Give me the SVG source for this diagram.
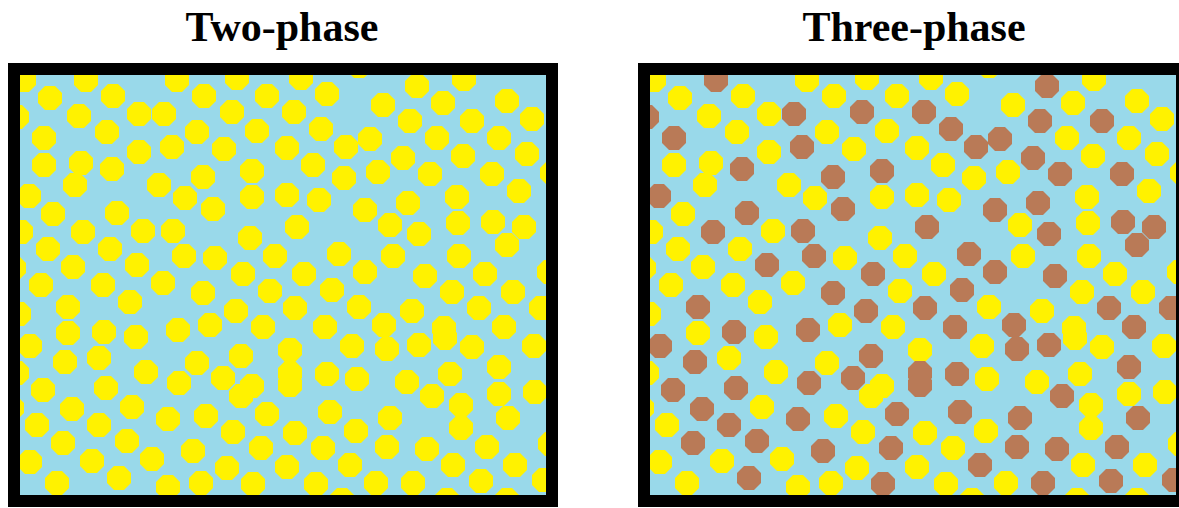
<svg xmlns="http://www.w3.org/2000/svg" xmlns:xlink="http://www.w3.org/1999/xlink" width="1179" height="508" viewBox="0 0 1179 508">
<style>
.t{font-family:"Liberation Serif","Times New Roman",serif;font-weight:bold;font-size:42px;fill:#000;text-anchor:middle}
.bg{fill:#99D9EA}
.fr{fill:none;stroke:#000;stroke-width:12}
.y{fill:#FFF200}
.b{fill:#B97A57}
</style>
<defs>
<path id="o" d="M12 5L5 12L-5 12L-12 5L-12-5L-5-12L5-12L12-5Z"/>
<clipPath id="cL"><rect x="20" y="75" width="526" height="420"/></clipPath>
<clipPath id="cR"><rect x="650" y="75" width="526" height="420"/></clipPath>
</defs>
<rect width="1179" height="508" fill="#fff"/>
<g id="title-two"><text class="t" x="282" y="41">Two-phase</text></g>
<g id="title-three"><text class="t" x="914" y="41">Three-phase</text></g>
<g id="panel-two">
<rect class="bg" x="20" y="75" width="526" height="420"/>
<g clip-path="url(#cL)" class="y">
<use href="#o" x="24" y="80"/><use href="#o" x="86" y="80"/><use href="#o" x="50" y="98"/><use href="#o" x="113" y="96"/><use href="#o" x="177" y="80"/><use href="#o" x="237" y="78"/><use href="#o" x="204" y="96"/><use href="#o" x="267" y="96"/><use href="#o" x="17" y="117"/><use href="#o" x="79" y="116"/>
<use href="#o" x="139" y="114"/><use href="#o" x="164" y="114"/><use href="#o" x="232" y="112"/><use href="#o" x="44" y="138"/><use href="#o" x="107" y="132"/><use href="#o" x="197" y="132"/><use href="#o" x="257" y="131"/><use href="#o" x="139" y="152"/><use href="#o" x="172" y="147"/><use href="#o" x="224" y="149"/>
<use href="#o" x="287" y="148"/><use href="#o" x="44" y="165"/><use href="#o" x="81" y="163"/><use href="#o" x="112" y="169"/><use href="#o" x="75" y="185"/><use href="#o" x="159" y="185"/><use href="#o" x="203" y="177"/><use href="#o" x="252" y="171"/><use href="#o" x="29" y="196"/><use href="#o" x="185" y="198"/>
<use href="#o" x="53" y="214"/><use href="#o" x="117" y="213"/><use href="#o" x="213" y="209"/><use href="#o" x="252" y="197"/><use href="#o" x="287" y="195"/><use href="#o" x="301" y="78"/><use href="#o" x="359" y="66"/><use href="#o" x="327" y="94"/><use href="#o" x="417" y="86"/><use href="#o" x="464" y="79"/>
<use href="#o" x="294" y="112"/><use href="#o" x="383" y="105"/><use href="#o" x="443" y="103"/><use href="#o" x="507" y="101"/><use href="#o" x="321" y="129"/><use href="#o" x="410" y="121"/><use href="#o" x="472" y="121"/><use href="#o" x="532" y="119"/><use href="#o" x="346" y="147"/><use href="#o" x="370" y="139"/>
<use href="#o" x="437" y="138"/><use href="#o" x="499" y="138"/><use href="#o" x="313" y="165"/><use href="#o" x="403" y="158"/><use href="#o" x="463" y="156"/><use href="#o" x="527" y="154"/><use href="#o" x="344" y="178"/><use href="#o" x="378" y="172"/><use href="#o" x="430" y="174"/><use href="#o" x="492" y="174"/>
<use href="#o" x="552" y="173"/><use href="#o" x="319" y="200"/><use href="#o" x="365" y="210"/><use href="#o" x="408" y="203"/><use href="#o" x="457" y="197"/><use href="#o" x="519" y="191"/><use href="#o" x="21" y="232"/><use href="#o" x="83" y="232"/><use href="#o" x="143" y="231"/><use href="#o" x="173" y="231"/>
<use href="#o" x="250" y="238"/><use href="#o" x="48" y="249"/><use href="#o" x="110" y="249"/><use href="#o" x="184" y="256"/><use href="#o" x="215" y="258"/><use href="#o" x="275" y="256"/><use href="#o" x="14" y="268"/><use href="#o" x="73" y="267"/><use href="#o" x="137" y="265"/><use href="#o" x="243" y="274"/>
<use href="#o" x="41" y="285"/><use href="#o" x="103" y="285"/><use href="#o" x="163" y="283"/><use href="#o" x="203" y="293"/><use href="#o" x="270" y="291"/><use href="#o" x="68" y="307"/><use href="#o" x="130" y="302"/><use href="#o" x="236" y="311"/><use href="#o" x="19" y="314"/><use href="#o" x="68" y="333"/>
<use href="#o" x="104" y="332"/><use href="#o" x="136" y="337"/><use href="#o" x="178" y="330"/><use href="#o" x="210" y="325"/><use href="#o" x="263" y="327"/><use href="#o" x="30" y="346"/><use href="#o" x="297" y="227"/><use href="#o" x="390" y="225"/><use href="#o" x="419" y="234"/><use href="#o" x="458" y="223"/>
<use href="#o" x="493" y="222"/><use href="#o" x="524" y="227"/><use href="#o" x="507" y="245"/><use href="#o" x="339" y="254"/><use href="#o" x="393" y="256"/><use href="#o" x="459" y="256"/><use href="#o" x="304" y="274"/><use href="#o" x="365" y="272"/><use href="#o" x="425" y="276"/><use href="#o" x="485" y="274"/>
<use href="#o" x="549" y="272"/><use href="#o" x="332" y="290"/><use href="#o" x="452" y="292"/><use href="#o" x="513" y="292"/><use href="#o" x="295" y="308"/><use href="#o" x="359" y="307"/><use href="#o" x="412" y="311"/><use href="#o" x="479" y="308"/><use href="#o" x="541" y="308"/><use href="#o" x="325" y="327"/>
<use href="#o" x="384" y="325"/><use href="#o" x="444" y="328"/><use href="#o" x="504" y="327"/><use href="#o" x="65" y="362"/><use href="#o" x="99" y="358"/><use href="#o" x="197" y="363"/><use href="#o" x="241" y="356"/><use href="#o" x="290" y="350"/><use href="#o" x="17" y="373"/><use href="#o" x="146" y="372"/>
<use href="#o" x="179" y="383"/><use href="#o" x="223" y="378"/><use href="#o" x="252" y="386"/><use href="#o" x="241" y="396"/><use href="#o" x="290" y="373"/><use href="#o" x="290" y="385"/><use href="#o" x="43" y="390"/><use href="#o" x="106" y="388"/><use href="#o" x="72" y="409"/><use href="#o" x="132" y="407"/>
<use href="#o" x="12" y="408"/><use href="#o" x="168" y="419"/><use href="#o" x="206" y="416"/><use href="#o" x="267" y="414"/><use href="#o" x="37" y="425"/><use href="#o" x="99" y="425"/><use href="#o" x="233" y="432"/><use href="#o" x="63" y="443"/><use href="#o" x="127" y="441"/><use href="#o" x="193" y="451"/>
<use href="#o" x="261" y="448"/><use href="#o" x="30" y="462"/><use href="#o" x="92" y="461"/><use href="#o" x="152" y="459"/><use href="#o" x="227" y="468"/><use href="#o" x="287" y="467"/><use href="#o" x="57" y="483"/><use href="#o" x="119" y="478"/><use href="#o" x="168" y="487"/><use href="#o" x="201" y="483"/>
<use href="#o" x="253" y="484"/><use href="#o" x="352" y="346"/><use href="#o" x="387" y="349"/><use href="#o" x="419" y="345"/><use href="#o" x="445" y="338"/><use href="#o" x="472" y="347"/><use href="#o" x="534" y="346"/><use href="#o" x="327" y="374"/><use href="#o" x="357" y="379"/><use href="#o" x="407" y="382"/>
<use href="#o" x="450" y="374"/><use href="#o" x="499" y="367"/><use href="#o" x="432" y="396"/><use href="#o" x="461" y="405"/><use href="#o" x="499" y="394"/><use href="#o" x="535" y="392"/><use href="#o" x="330" y="412"/><use href="#o" x="390" y="418"/><use href="#o" x="461" y="428"/><use href="#o" x="508" y="418"/>
<use href="#o" x="295" y="433"/><use href="#o" x="356" y="431"/><use href="#o" x="323" y="448"/><use href="#o" x="387" y="447"/><use href="#o" x="427" y="449"/><use href="#o" x="487" y="447"/><use href="#o" x="550" y="444"/><use href="#o" x="350" y="465"/><use href="#o" x="453" y="465"/><use href="#o" x="515" y="465"/>
<use href="#o" x="316" y="484"/><use href="#o" x="376" y="483"/><use href="#o" x="413" y="483"/><use href="#o" x="481" y="481"/><use href="#o" x="544" y="480"/><use href="#o" x="342" y="500"/><use href="#o" x="447" y="500"/><use href="#o" x="507" y="500"/>
</g>
<rect class="fr" x="14" y="69" width="538" height="432"/>
</g>
<g id="panel-three">
<rect class="bg" x="650" y="75" width="526" height="420"/>
<g clip-path="url(#cR)"><g transform="translate(630,0)">
<g class="y">
<use href="#o" x="24" y="80"/><use href="#o" x="50" y="98"/><use href="#o" x="113" y="96"/><use href="#o" x="177" y="80"/><use href="#o" x="237" y="78"/><use href="#o" x="204" y="96"/><use href="#o" x="267" y="96"/><use href="#o" x="79" y="116"/>
<use href="#o" x="139" y="114"/><use href="#o" x="107" y="132"/><use href="#o" x="197" y="132"/><use href="#o" x="257" y="131"/><use href="#o" x="139" y="152"/><use href="#o" x="224" y="149"/>
<use href="#o" x="287" y="148"/><use href="#o" x="44" y="165"/><use href="#o" x="81" y="163"/><use href="#o" x="75" y="185"/><use href="#o" x="159" y="185"/><use href="#o" x="185" y="198"/>
<use href="#o" x="53" y="214"/><use href="#o" x="252" y="197"/><use href="#o" x="287" y="195"/><use href="#o" x="301" y="78"/><use href="#o" x="359" y="66"/><use href="#o" x="327" y="94"/><use href="#o" x="464" y="79"/>
<use href="#o" x="383" y="105"/><use href="#o" x="443" y="103"/><use href="#o" x="507" y="101"/><use href="#o" x="532" y="119"/>
<use href="#o" x="437" y="138"/><use href="#o" x="499" y="138"/><use href="#o" x="313" y="165"/><use href="#o" x="463" y="156"/><use href="#o" x="527" y="154"/><use href="#o" x="344" y="178"/><use href="#o" x="378" y="172"/>
<use href="#o" x="552" y="173"/><use href="#o" x="319" y="200"/><use href="#o" x="457" y="197"/><use href="#o" x="519" y="191"/><use href="#o" x="21" y="232"/><use href="#o" x="143" y="231"/>
<use href="#o" x="250" y="238"/><use href="#o" x="48" y="249"/><use href="#o" x="110" y="249"/><use href="#o" x="215" y="258"/><use href="#o" x="275" y="256"/><use href="#o" x="14" y="268"/><use href="#o" x="73" y="267"/>
<use href="#o" x="41" y="285"/><use href="#o" x="103" y="285"/><use href="#o" x="163" y="283"/><use href="#o" x="270" y="291"/><use href="#o" x="130" y="302"/><use href="#o" x="19" y="314"/><use href="#o" x="68" y="333"/>
<use href="#o" x="136" y="337"/><use href="#o" x="210" y="325"/><use href="#o" x="263" y="327"/><use href="#o" x="390" y="225"/><use href="#o" x="458" y="223"/>
<use href="#o" x="393" y="256"/><use href="#o" x="459" y="256"/><use href="#o" x="304" y="274"/><use href="#o" x="485" y="274"/>
<use href="#o" x="549" y="272"/><use href="#o" x="452" y="292"/><use href="#o" x="513" y="292"/><use href="#o" x="359" y="307"/><use href="#o" x="412" y="311"/>
<use href="#o" x="444" y="328"/><use href="#o" x="99" y="358"/><use href="#o" x="197" y="363"/><use href="#o" x="290" y="350"/><use href="#o" x="17" y="373"/><use href="#o" x="146" y="372"/>
<use href="#o" x="252" y="386"/><use href="#o" x="241" y="396"/><use href="#o" x="132" y="407"/>
<use href="#o" x="12" y="408"/><use href="#o" x="206" y="416"/><use href="#o" x="37" y="425"/><use href="#o" x="233" y="432"/>
<use href="#o" x="30" y="462"/><use href="#o" x="92" y="461"/><use href="#o" x="152" y="459"/><use href="#o" x="227" y="468"/><use href="#o" x="287" y="467"/><use href="#o" x="57" y="483"/><use href="#o" x="168" y="487"/><use href="#o" x="201" y="483"/>
<use href="#o" x="352" y="346"/><use href="#o" x="445" y="338"/><use href="#o" x="472" y="347"/><use href="#o" x="534" y="346"/><use href="#o" x="357" y="379"/><use href="#o" x="407" y="382"/>
<use href="#o" x="450" y="374"/><use href="#o" x="461" y="405"/><use href="#o" x="499" y="394"/><use href="#o" x="535" y="392"/><use href="#o" x="461" y="428"/>
<use href="#o" x="295" y="433"/><use href="#o" x="356" y="431"/><use href="#o" x="323" y="448"/><use href="#o" x="550" y="444"/><use href="#o" x="453" y="465"/><use href="#o" x="515" y="465"/>
<use href="#o" x="316" y="484"/><use href="#o" x="376" y="483"/><use href="#o" x="342" y="500"/><use href="#o" x="447" y="500"/><use href="#o" x="507" y="500"/>
</g>
<g class="b">
<use href="#o" x="86" y="80"/><use href="#o" x="17" y="117"/><use href="#o" x="164" y="114"/><use href="#o" x="232" y="112"/><use href="#o" x="44" y="138"/><use href="#o" x="172" y="147"/><use href="#o" x="112" y="169"/><use href="#o" x="203" y="177"/><use href="#o" x="252" y="171"/><use href="#o" x="29" y="196"/>
<use href="#o" x="117" y="213"/><use href="#o" x="213" y="209"/><use href="#o" x="417" y="86"/><use href="#o" x="294" y="112"/><use href="#o" x="321" y="129"/><use href="#o" x="410" y="121"/><use href="#o" x="472" y="121"/><use href="#o" x="346" y="147"/><use href="#o" x="370" y="139"/>
<use href="#o" x="403" y="158"/><use href="#o" x="430" y="174"/><use href="#o" x="492" y="174"/><use href="#o" x="365" y="210"/><use href="#o" x="408" y="203"/><use href="#o" x="83" y="232"/><use href="#o" x="173" y="231"/><use href="#o" x="184" y="256"/><use href="#o" x="137" y="265"/><use href="#o" x="243" y="274"/>
<use href="#o" x="203" y="293"/><use href="#o" x="68" y="307"/><use href="#o" x="236" y="311"/><use href="#o" x="104" y="332"/><use href="#o" x="178" y="330"/><use href="#o" x="30" y="346"/><use href="#o" x="297" y="227"/><use href="#o" x="419" y="234"/>
<use href="#o" x="493" y="222"/><use href="#o" x="524" y="227"/><use href="#o" x="507" y="245"/><use href="#o" x="339" y="254"/><use href="#o" x="365" y="272"/><use href="#o" x="425" y="276"/><use href="#o" x="332" y="290"/><use href="#o" x="295" y="308"/><use href="#o" x="479" y="308"/><use href="#o" x="541" y="308"/><use href="#o" x="325" y="327"/>
<use href="#o" x="384" y="325"/><use href="#o" x="504" y="327"/><use href="#o" x="65" y="362"/><use href="#o" x="241" y="356"/><use href="#o" x="179" y="383"/><use href="#o" x="223" y="378"/><use href="#o" x="290" y="373"/><use href="#o" x="290" y="385"/><use href="#o" x="43" y="390"/><use href="#o" x="106" y="388"/><use href="#o" x="72" y="409"/>
<use href="#o" x="168" y="419"/><use href="#o" x="267" y="414"/><use href="#o" x="99" y="425"/><use href="#o" x="63" y="443"/><use href="#o" x="127" y="441"/><use href="#o" x="193" y="451"/><use href="#o" x="261" y="448"/><use href="#o" x="119" y="478"/><use href="#o" x="253" y="484"/>
<use href="#o" x="387" y="349"/><use href="#o" x="419" y="345"/><use href="#o" x="327" y="374"/><use href="#o" x="499" y="367"/><use href="#o" x="432" y="396"/><use href="#o" x="330" y="412"/><use href="#o" x="390" y="418"/><use href="#o" x="508" y="418"/>
<use href="#o" x="387" y="447"/><use href="#o" x="427" y="449"/><use href="#o" x="487" y="447"/><use href="#o" x="350" y="465"/><use href="#o" x="413" y="483"/><use href="#o" x="481" y="481"/><use href="#o" x="544" y="480"/>
</g>
</g></g>
<rect class="fr" x="644" y="69" width="538" height="432"/>
</g>
</svg>
